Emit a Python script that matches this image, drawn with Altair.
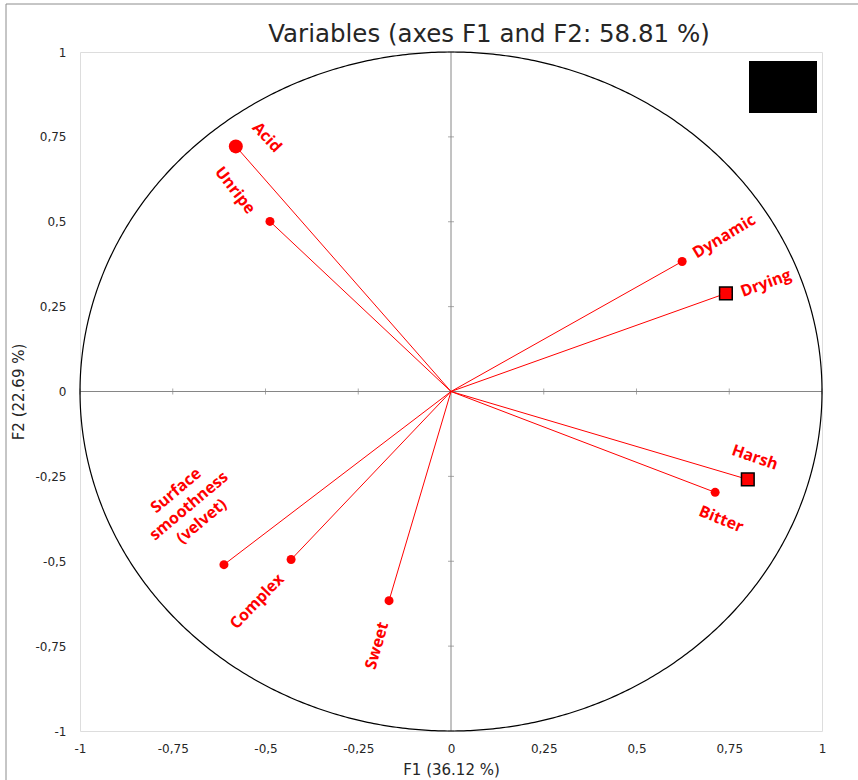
import numpy as np
import pandas as pd
import altair as alt

# ---------------- data ----------------
variables = ["Acid", "Unripe", "Dynamic", "Drying", "Harsh", "Bitter",
             "Surface smoothness (velvet)", "Complex", "Sweet"]
f1 = [-0.580, -0.488, 0.623, 0.741, 0.800, 0.712, -0.612, -0.431, -0.167]
f2 = [0.722, 0.501, 0.383, 0.289, -0.259, -0.297, -0.510, -0.495, -0.616]
tick_values = [-1, -0.75, -0.5, -0.25, 0, 0.25, 0.5, 0.75, 1]

title_text = "Variables (axes F1 and F2: 58.81 %)"
x_title = "F1 (36.12 %)"
y_title = "F2 (22.69 %)"

# ---------------- style ----------------
big_markers = ["Acid"]
square_markers = ["Drying", "Harsh"]
# label anchor offset from the point, in screen pixels (right, down)
label_offset_px = {
    "Acid": (31, -9), "Unripe": (-35, -31), "Dynamic": (42, -25),
    "Drying": (40, -10), "Harsh": (7, -22), "Bitter": (6, 27),
    "Surface smoothness (velvet)": (-48, -74), "Complex": (-34, 42),
    "Sweet": (-12, 45),
}
label_angle = {
    "Acid": 47, "Unripe": 52, "Dynamic": -31, "Drying": -20, "Harsh": 19,
    "Bitter": 22, "Surface smoothness (velvet)": -40, "Complex": -46,
    "Sweet": -74,
}

W, H = 742, 679
RED = "#ff0000"
GRAY = "#868686"
TXT = "#262626"

df = pd.DataFrame({"variable": variables, "F1": f1, "F2": f2})
df["x0"] = 0.0
df["y0"] = 0.0
df["lx"] = [a + label_offset_px[v][0] / (W / 2) for v, a in zip(variables, f1)]
df["ly"] = [b - label_offset_px[v][1] / (H / 2) for v, b in zip(variables, f2)]
df["ang"] = [label_angle[v] % 360 for v in variables]

xs = alt.Scale(domain=[-1, 1], nice=False, zero=False)
ys = alt.Scale(domain=[-1, 1], nice=False, zero=False)
label_expr = "replace(toString(datum.value), '.', ',')"

x_axis = alt.Axis(values=tick_values, labelExpr=label_expr, title=x_title,
                  grid=False, domain=False, ticks=False, labelPadding=12,
                  labelFontSize=12, labelFont="DejaVu Sans", labelColor=TXT,
                  labelFlush=False, labelOverlap=False,
                  titleFont="DejaVu Sans", titleFontSize=15, titleFontWeight="normal",
                  titleColor=TXT, titleX=W / 2, titleY=38, titleBaseline="middle",
                  titleAlign="center")
y_axis = alt.Axis(values=tick_values, labelExpr=label_expr, title=y_title,
                  grid=False, domain=False, ticks=False, labelPadding=14,
                  labelFontSize=12, labelFont="DejaVu Sans", labelColor=TXT,
                  labelFlush=False, labelOverlap=False,
                  titleFont="DejaVu Sans", titleFontSize=15, titleFontWeight="normal",
                  titleColor=TXT, titleX=-62, titleY=H / 2, titleBaseline="middle",
                  titleAlign="center", titleAngle=270)

base = alt.Chart(df)

vectors = base.mark_rule(color=RED, strokeWidth=1).encode(
    x=alt.X("x0:Q", scale=xs, axis=x_axis),
    y=alt.Y("y0:Q", scale=ys, axis=y_axis),
    x2="F1:Q", y2="F2:Q",
)

# reference unit circle (geometry, not data)
t = np.linspace(0, 2 * np.pi, 721)
circ = pd.DataFrame({"cx": np.cos(t), "cy": np.sin(t), "i": np.arange(len(t))})
circle = alt.Chart(circ).mark_line(color="#000000", strokeWidth=1.2).encode(
    x=alt.X("cx:Q", scale=xs), y=alt.Y("cy:Q", scale=ys), order="i:Q")

seg = pd.DataFrame({"a": [-1.0], "b": [1.0], "z": [0.0]})
vline = alt.Chart(seg).mark_rule(color=GRAY, strokeWidth=1).encode(
    x=alt.X("z:Q", scale=xs), y=alt.Y("a:Q", scale=ys), y2="b:Q")
hline = alt.Chart(seg).mark_rule(color=GRAY, strokeWidth=1).encode(
    y=alt.Y("z:Q", scale=ys), x=alt.X("a:Q", scale=xs), x2="b:Q")

tk = pd.DataFrame({"v": [v for v in tick_values if v != 0], "z": 0.0})
yticks = alt.Chart(tk).mark_tick(color=GRAY, orient="horizontal", size=6, thickness=1).encode(
    x=alt.X("z:Q", scale=xs), y=alt.Y("v:Q", scale=ys))
xticks = alt.Chart(tk).mark_tick(color=GRAY, orient="vertical", size=6, thickness=1).encode(
    y=alt.Y("z:Q", scale=ys), x=alt.X("v:Q", scale=xs))

small_pts = base.transform_filter(
    ~alt.FieldOneOfPredicate(field="variable", oneOf=big_markers + square_markers)
).mark_point(shape="circle", filled=True, color=RED, size=81, opacity=1).encode(
    x="F1:Q", y="F2:Q")
big_pts = base.transform_filter(
    alt.FieldOneOfPredicate(field="variable", oneOf=big_markers)
).mark_point(shape="circle", filled=True, color=RED, size=196, opacity=1).encode(
    x="F1:Q", y="F2:Q")
sq_pts = base.transform_filter(
    alt.FieldOneOfPredicate(field="variable", oneOf=square_markers)
).mark_point(shape="square", filled=True, fill=RED, stroke="#000000", strokeWidth=1.5,
             size=160, opacity=1).encode(x="F1:Q", y="F2:Q")
sq_dots = base.transform_filter(
    alt.FieldOneOfPredicate(field="variable", oneOf=square_markers)
).mark_point(shape="circle", filled=True, color=RED, size=110, opacity=1).encode(
    x="F1:Q", y="F2:Q")

labels = base.mark_text(font="Open Sans", fontWeight="bold", fontSize=16, color=RED,
                        align="center", baseline="middle", lineBreak=" ",
                        lineHeight=20).encode(
    x="lx:Q", y="ly:Q", text="variable:N",
    angle=alt.Angle("ang:Q", scale=None))

legend_box = alt.Chart(seg).mark_rect(color="#000000").encode(
    x=alt.value(669), x2=alt.value(737), y=alt.value(9), y2=alt.value(61))

frame_top = alt.Chart(seg).mark_rule(color="#8c8c8c", strokeWidth=1).encode(
    x=alt.value(-74), x2=alt.value(800), y=alt.value(-48))
frame_left = alt.Chart(seg).mark_rule(color="#8c8c8c", strokeWidth=1).encode(
    x=alt.value(-74), y=alt.value(-48), y2=alt.value(800))

title_mark = alt.Chart(pd.DataFrame({"t": [title_text]})).mark_text(
    font="DejaVu Sans", fontSize=24.5, color=TXT, align="center", baseline="alphabetic"
).encode(text="t:N", x=alt.value(409), y=alt.value(-10))

chart = alt.layer(
    vline, hline, yticks, xticks, circle, vectors,
    small_pts, big_pts, sq_pts, sq_dots, labels, legend_box, frame_top, frame_left,
    title_mark,
).properties(
    width=W, height=H,
    autosize=alt.AutoSizeParams(type="none"),
    padding={"left": 80, "top": 52, "right": 36, "bottom": 49},
).configure_view(stroke="#d0d0d0", strokeWidth=1).configure(background="white")

chart.save("out.html", embed_options={"renderer": "svg", "actions": False})
